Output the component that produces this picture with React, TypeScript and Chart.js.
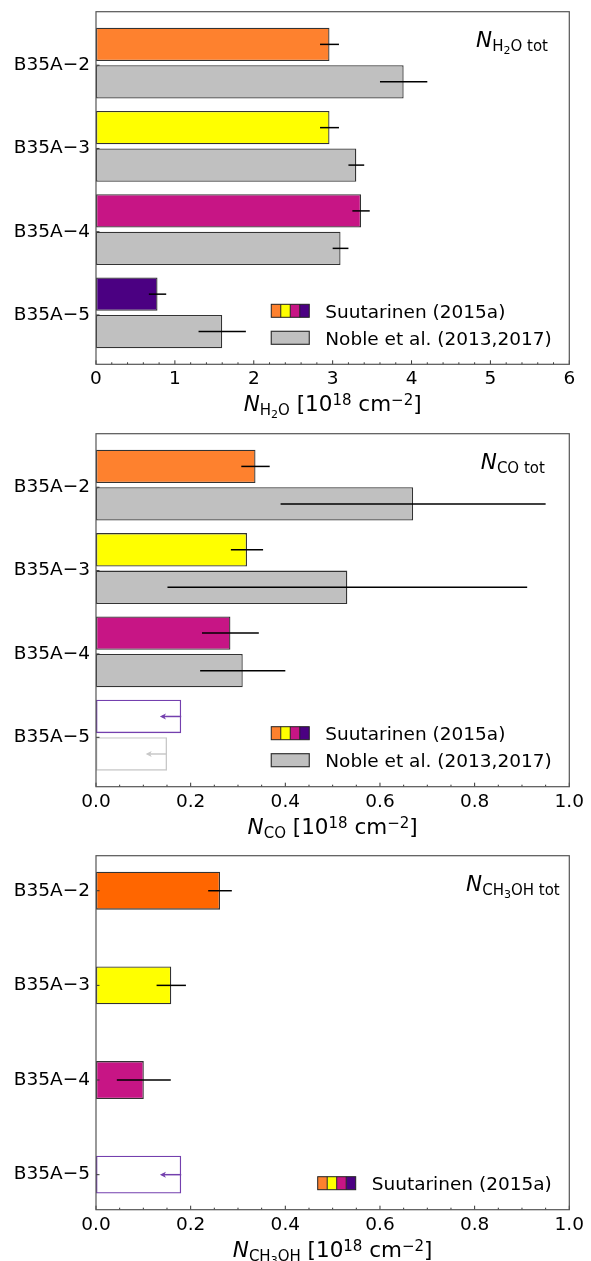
import React, { useEffect, useRef } from 'react';
import { Chart, registerables } from 'chart.js';

Chart.register(...registerables);

const FONT = '"DejaVu Sans", sans-serif';
Chart.defaults.font.family = FONT;

// ---------- data ----------
const categories = ['B35A−2', 'B35A−3', 'B35A−4', 'B35A−5'];

// H2O panel
const h2oSuutarinen = [2.96, 2.96, 3.36, 0.78];
const h2oSuutarinenErr = [0.12, 0.12, 0.11, 0.11];
const h2oNoble = [3.9, 3.3, 3.1, 1.6];
const h2oNobleErr = [0.3, 0.1, 0.1, 0.3];

// CO panel
const coSuutarinen = [0.337, 0.319, 0.284, 0.18];
const coSuutarinenErr = [0.03, 0.034, 0.06, 0];
const coSuutarinenLimit = [false, false, false, true];
const coNoble = [0.67, 0.531, 0.31, 0.15];
const coNobleErr = [0.28, 0.38, 0.09, 0];
const coNobleLimit = [false, false, false, true];

// CH3OH panel
const meohSuutarinen = [0.262, 0.159, 0.101, 0.18];
const meohSuutarinenErr = [0.025, 0.031, 0.057, 0];
const meohSuutarinenLimit = [false, false, false, true];

const noLimits = [false, false, false, false];

// tick labels
const h2oTicks = [0, 1, 2, 3, 4, 5, 6];
const unitTicks = [0, 0.2, 0.4, 0.6, 0.8, 1.0];

const legendSuutarinen = 'Suutarinen (2015a)';
const legendNoble = 'Noble et al. (2013,2017)';

// ---------- styles ----------
const suuColors = ['#FE812E', '#FFFF00', '#C71585', '#4B0082'];
const suuColorsMeoh = ['#FF6600', '#FFFF00', '#C71585', '#4B0082'];
const nobleColors = ['#C0C0C0', '#C0C0C0', '#C0C0C0', '#C0C0C0'];
const EDGE = '#333333';
const LIMIT_PURPLE = '#7440AE';
const LIMIT_GRAY = '#C8C8C8';
const ARROW_LEN = 0.045;

type Seg = { t: string; s: number; it?: boolean; dy?: number };
const M = 21.5;
const S = 15;
const SS = 11;
const Nseg: Seg = { t: 'N', s: M, it: true };
const sub = (t: string): Seg => ({ t, s: S, dy: 4 });
const subsub = (t: string): Seg => ({ t, s: SS, dy: 7 });
const unitSegs: Seg[] = [
  { t: ' [10', s: M },
  { t: '18', s: S, dy: -6 },
  { t: ' cm', s: M },
  { t: '−2', s: S, dy: -6 },
  { t: ']', s: M },
];

function setFont(ctx: CanvasRenderingContext2D, g: Seg) {
  ctx.font = `${g.it ? 'italic ' : ''}${g.s}px ${FONT}`;
}
function richWidth(ctx: CanvasRenderingContext2D, segs: Seg[]) {
  let w = 0;
  for (const g of segs) {
    setFont(ctx, g);
    w += ctx.measureText(g.t).width;
  }
  return w;
}
function drawRich(ctx: CanvasRenderingContext2D, segs: Seg[], x: number, y: number, align: 'left' | 'center') {
  const w = richWidth(ctx, segs);
  let cx = align === 'center' ? x - w / 2 : x;
  ctx.textAlign = 'left';
  ctx.textBaseline = 'alphabetic';
  ctx.fillStyle = '#000';
  for (const g of segs) {
    setFont(ctx, g);
    ctx.fillText(g.t, cx, y + (g.dy || 0));
    cx += ctx.measureText(g.t).width;
  }
}

interface Series {
  label: string;
  values: number[];
  errs: number[];
  limits: boolean[];
  colors: string[];
  limitColor: string;
  offset: number;
}
interface LegendEntry { kind: 'multi' | 'gray'; label: string }
interface PanelSpec {
  h: number;
  padTop: number;
  xAxisH: number;
  xMax: number;
  xTicks: number[];
  minorStep: number;
  fmt: (v: number) => string;
  yMin: number;
  yMax: number;
  barPct: number;
  series: Series[];
  legend: LegendEntry[];
  annot: Seg[];
  annotFrac: number;
  title: Seg[];
}

const panels: PanelSpec[] = [
  {
    h: 420, padTop: 11.7, xAxisH: 55.7, xMax: 6, xTicks: h2oTicks, minorStep: 0.2,
    fmt: (v) => String(v), yMin: -0.6425, yMax: 3.5925, barPct: 0.4 / 0.45,
    series: [
      { label: legendSuutarinen, values: h2oSuutarinen, errs: h2oSuutarinenErr, limits: noLimits, colors: suuColors, limitColor: LIMIT_PURPLE, offset: -0.25 },
      { label: legendNoble, values: h2oNoble, errs: h2oNobleErr, limits: noLimits, colors: nobleColors, limitColor: LIMIT_GRAY, offset: 0.2 },
    ],
    legend: [{ kind: 'multi', label: legendSuutarinen }, { kind: 'gray', label: legendNoble }],
    annot: [Nseg, sub('H'), subsub('2'), sub('O tot')],
    annotFrac: 0.803,
    title: [Nseg, sub('H'), subsub('2'), sub('O'), ...unitSegs],
  },
  {
    h: 420, padTop: 13.7, xAxisH: 53.3, xMax: 1, xTicks: unitTicks, minorStep: 0.05,
    fmt: (v) => Number(v).toFixed(1), yMin: -0.6425, yMax: 3.5925, barPct: 0.4 / 0.45,
    series: [
      { label: legendSuutarinen, values: coSuutarinen, errs: coSuutarinenErr, limits: coSuutarinenLimit, colors: suuColors, limitColor: LIMIT_PURPLE, offset: -0.25 },
      { label: legendNoble, values: coNoble, errs: coNobleErr, limits: coNobleLimit, colors: nobleColors, limitColor: LIMIT_GRAY, offset: 0.2 },
    ],
    legend: [{ kind: 'multi', label: legendSuutarinen }, { kind: 'gray', label: legendNoble }],
    annot: [Nseg, sub('CO tot')],
    annotFrac: 0.813,
    title: [Nseg, sub('CO'), ...unitSegs],
  },
  {
    h: 421, padTop: 15.7, xAxisH: 51.3, xMax: 1, xTicks: unitTicks, minorStep: 0.05,
    fmt: (v) => Number(v).toFixed(1), yMin: -0.37, yMax: 3.37, barPct: 0.4,
    series: [
      { label: legendSuutarinen, values: meohSuutarinen, errs: meohSuutarinenErr, limits: meohSuutarinenLimit, colors: suuColorsMeoh, limitColor: LIMIT_PURPLE, offset: 0 },
    ],
    legend: [{ kind: 'multi', label: legendSuutarinen }],
    annot: [Nseg, sub('CH'), subsub('3'), sub('OH tot')],
    annotFrac: 0.782,
    title: [Nseg, sub('CH'), subsub('3'), sub('OH'), ...unitSegs],
  },
];

function decorPlugin(spec: PanelSpec) {
  return {
    id: 'decor',
    afterDatasetsDraw(chart: any) {
      const ctx: CanvasRenderingContext2D = chart.ctx;
      const xs = chart.scales.x;
      const ys = chart.scales.y;
      const a = chart.chartArea;
      ctx.save();

      // error bars and upper limits
      spec.series.forEach((s, di) => {
        const meta = chart.getDatasetMeta(di);
        s.values.forEach((v, i) => {
          const el = meta.data[i];
          const y = el.y;
          if (s.limits[i]) {
            const x0 = xs.getPixelForValue(v);
            const x1 = xs.getPixelForValue(v - ARROW_LEN);
            ctx.strokeStyle = s.limitColor;
            ctx.fillStyle = s.limitColor;
            ctx.lineWidth = 1.5;
            ctx.beginPath();
            ctx.moveTo(x0, y);
            ctx.lineTo(x1 + 2, y);
            ctx.stroke();
            ctx.beginPath();
            ctx.moveTo(x1, y);
            ctx.lineTo(x1 + 6, y - 3);
            ctx.lineTo(x1 + 4.5, y);
            ctx.lineTo(x1 + 6, y + 3);
            ctx.closePath();
            ctx.fill();
          } else if (s.errs[i] > 0) {
            const x0 = xs.getPixelForValue(v - s.errs[i]);
            const x1 = xs.getPixelForValue(v + s.errs[i]);
            ctx.strokeStyle = '#000';
            ctx.lineWidth = 1.5;
            ctx.beginPath();
            ctx.moveTo(x0, y);
            ctx.lineTo(x1, y);
            ctx.stroke();
          }
        });
      });

      // inward ticks
      ctx.strokeStyle = '#333';
      ctx.lineWidth = 1;
      ctx.beginPath();
      spec.xTicks.forEach((v) => {
        const px = xs.getPixelForValue(v);
        ctx.moveTo(px, a.bottom);
        ctx.lineTo(px, a.bottom - 4);
      });
      const nMinor = Math.round(spec.xMax / spec.minorStep);
      for (let k = 0; k <= nMinor; k++) {
        const v = k * spec.minorStep;
        if (spec.xTicks.some((t) => Math.abs(t - v) < 1e-6)) continue;
        const px = xs.getPixelForValue(v);
        ctx.moveTo(px, a.bottom);
        ctx.lineTo(px, a.bottom - 2);
      }
      categories.forEach((_, i) => {
        const py = ys.getPixelForValue(i);
        ctx.moveTo(a.left, py);
        ctx.lineTo(a.left + 3.5, py);
      });
      ctx.stroke();

      // frame
      ctx.strokeStyle = '#555';
      ctx.lineWidth = 1.2;
      ctx.strokeRect(a.left, a.top, a.right - a.left, a.bottom - a.top);

      // annotation
      drawRich(ctx, spec.annot, a.left + spec.annotFrac * (a.right - a.left), a.top + 35, 'left');

      // legend
      ctx.font = `18.5px ${FONT}`;
      const maxW = Math.max(...spec.legend.map((e) => ctx.measureText(e.label).width));
      const textRight = a.right - 17.5;
      const textLeft = textRight - maxW;
      const swL = textLeft - 54;
      const swW = 38;
      const swH = 13;
      const n = spec.legend.length;
      spec.legend.forEach((e, k) => {
        const cy = a.bottom - 26.5 - (n - 1 - k) * 27;
        const top = cy - swH / 2;
        if (e.kind === 'multi') {
          const segW = swW / suuColors.length;
          suuColors.forEach((c, j) => {
            ctx.fillStyle = c;
            ctx.fillRect(swL + j * segW, top, segW, swH);
          });
          ctx.strokeStyle = '#222';
          ctx.lineWidth = 1;
          ctx.beginPath();
          for (let j = 1; j < suuColors.length; j++) {
            ctx.moveTo(swL + j * segW, top);
            ctx.lineTo(swL + j * segW, top + swH);
          }
          ctx.stroke();
          ctx.strokeRect(swL, top, swW, swH);
        } else {
          ctx.fillStyle = '#C0C0C0';
          ctx.fillRect(swL, top, swW, swH);
          ctx.strokeStyle = EDGE;
          ctx.lineWidth = 1.2;
          ctx.strokeRect(swL, top, swW, swH);
        }
        ctx.fillStyle = '#000';
        ctx.font = `18.5px ${FONT}`;
        ctx.textAlign = 'left';
        ctx.textBaseline = 'alphabetic';
        ctx.fillText(e.label, textLeft, cy + 7);
      });

      // x-axis title
      drawRich(ctx, spec.title, (a.left + a.right) / 2, a.bottom + 47, 'center');
      ctx.restore();
    },
  };
}

function buildConfig(spec: PanelSpec): any {
  return {
    type: 'bar',
    data: {
      datasets: spec.series.map((s) => ({
        label: s.label,
        data: s.values.map((v, i) => ({ x: v, y: i + s.offset })),
        backgroundColor: s.values.map((_, i) => (s.limits[i] ? 'rgba(255,255,255,0)' : s.colors[i])),
        borderColor: s.values.map((_, i) => (s.limits[i] ? s.limitColor : EDGE)),
        borderWidth: 1.3,
        borderSkipped: false,
        grouped: false,
        categoryPercentage: 1,
        barPercentage: spec.barPct,
      })),
    },
    options: {
      indexAxis: 'y',
      responsive: false,
      animation: false,
      events: [],
      layout: { padding: { top: spec.padTop, right: 21.7, bottom: 0, left: 0 } },
      plugins: { legend: { display: false }, tooltip: { enabled: false }, title: { display: false } },
      scales: {
        x: {
          type: 'linear',
          position: 'bottom',
          min: 0,
          max: spec.xMax,
          bounds: 'data',
          offset: false,
          grid: { display: false, drawTicks: false },
          border: { display: false },
          ticks: {
            font: { family: FONT, size: 18.5 },
            color: '#000',
            padding: 4,
            autoSkip: false,
            maxRotation: 0,
            callback: (v: any) => spec.fmt(Number(v)),
          },
          afterBuildTicks: (sc: any) => {
            sc.ticks = spec.xTicks.map((v) => ({ value: v }));
          },
          afterFit: (sc: any) => {
            sc.height = spec.xAxisH;
            sc.paddingLeft = 0;
            sc.paddingRight = 0;
          },
        },
        y: {
          type: 'linear',
          position: 'left',
          reverse: true,
          min: spec.yMin,
          max: spec.yMax,
          bounds: 'data',
          offset: false,
          grid: { display: false, drawTicks: false, offset: false },
          border: { display: false },
          ticks: {
            font: { family: FONT, size: 18.5 },
            color: '#000',
            padding: 6,
            autoSkip: false,
            callback: (v: any) => categories[Math.round(Number(v))] ?? '',
          },
          afterBuildTicks: (sc: any) => {
            sc.ticks = categories.map((_, i) => ({ value: i }));
          },
          afterFit: (sc: any) => {
            sc.width = 96;
            sc.paddingTop = 0;
            sc.paddingBottom = 0;
          },
        },
      },
    },
    plugins: [decorPlugin(spec)],
  };
}

function Panel({ spec }: { spec: PanelSpec }) {
  const ref = useRef<HTMLCanvasElement>(null);
  useEffect(() => {
    const chart = new Chart(ref.current as HTMLCanvasElement, buildConfig(spec));
    return () => chart.destroy();
  }, [spec]);
  return (
    <canvas
      ref={ref}
      width={591}
      height={spec.h}
      style={{ display: 'block', width: 591, height: spec.h }}
    />
  );
}

export default function App() {
  return (
    <div style={{ position: 'absolute', left: 0, top: 0, width: 591, height: 1261, background: '#fff' }}>
      {panels.map((p, i) => (
        <Panel key={i} spec={p} />
      ))}
    </div>
  );
}
